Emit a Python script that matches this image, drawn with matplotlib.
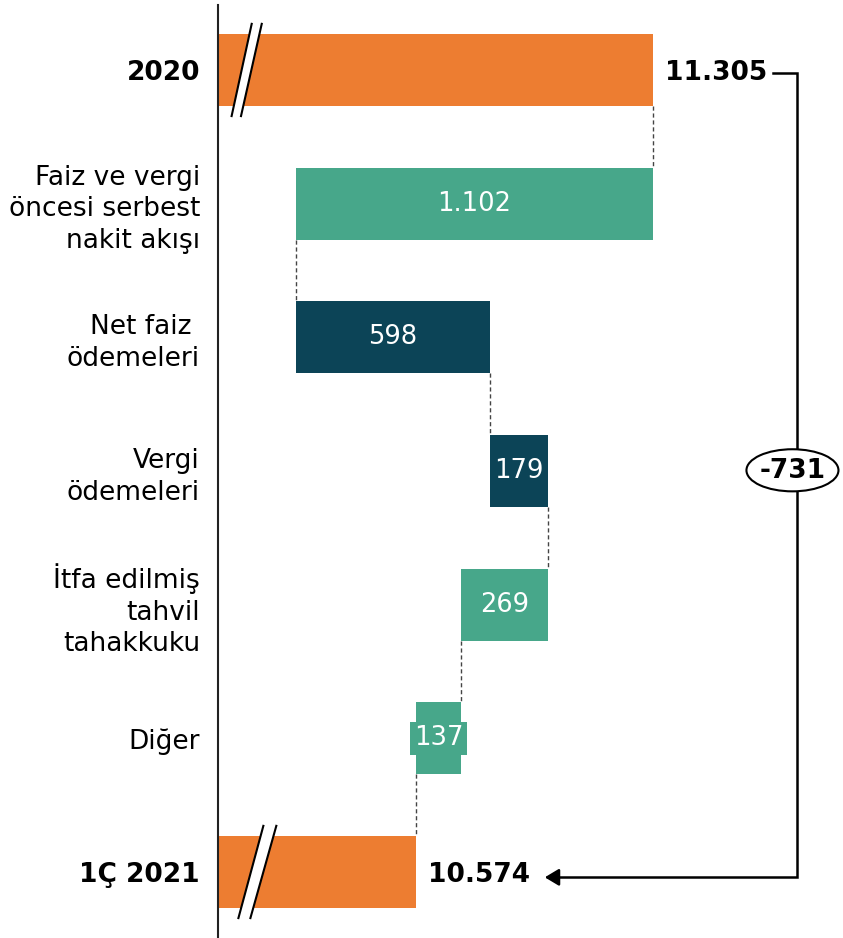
import matplotlib
matplotlib.use('Agg')
import matplotlib.pyplot as plt
from matplotlib.patches import Ellipse, Polygon

# --- data ---
categories = ['2020', 'Faiz ve vergi\nöncesi serbest\nnakit akışı', 'Net faiz \nödemeleri',
              'Vergi\nödemeleri', 'İtfa edilmiş\ntahvil\ntahakkuku', 'Diğer', '1Ç 2021']
start_value = 11305
end_value = 10574
changes = [-1102, 598, 179, -269, -137]
change_labels = ['1.102', '598', '179', '269', '137']
start_label = '11.305'
end_label = '10.574'
total_change_label = '-731'

ORANGE = '#ED7D31'
GREEN = '#47A78A'
DARK = '#0C4457'

plt.rcParams.update({'font.family': 'DejaVu Sans', 'font.size': 18})

fig = plt.figure(figsize=(8.43, 9.38), dpi=100)
ax = fig.add_axes([218 / 843, 0, 625 / 843, 933 / 938])

height = 0.54
x_left = 9962

# totals
ax.barh(0, start_value - x_left, left=x_left, height=height, color=ORANGE)
ax.barh(6, end_value - x_left, left=x_left, height=height, color=ORANGE)

# steps
level = start_value
levels = [start_value]
for idx, (chg, lab) in enumerate(zip(changes, change_labels)):
    new_level = level + chg
    lo, hi = min(level, new_level), max(level, new_level)
    col = GREEN if chg < 0 else DARK
    ax.barh(idx + 1, hi - lo, left=lo, height=height, color=col)
    bbox = None
    if lab == '137':
        bbox = dict(facecolor=GREEN, edgecolor='none', pad=2.5)
    ax.text((lo + hi) / 2, idx + 1, lab, color='white', ha='center', va='center',
            fontsize=18.5, bbox=bbox)
    level = new_level
    levels.append(level)

# dashed connectors
for idx, lev in enumerate(levels):
    ax.plot([lev, lev], [idx + height / 2, idx + 1 - height / 2], color='#444444',
            linestyle=(0, (3, 2)), linewidth=1)

# axis break marks
for yc, xs in [(0, (10004, 10066, 10033, 10097)), (6, (10025, 10102, 10062, 10142))]:
    b0, t0, b1, t1 = xs
    d = 0.345
    ax.add_patch(Polygon([(b0, yc + d), (t0, yc - d), (t1, yc - d), (b1, yc + d)],
                         closed=True, facecolor='white', edgecolor='none', zorder=3))
    ax.plot([b0, t0], [yc + d, yc - d], color='black', linewidth=1.5, zorder=4)
    ax.plot([b1, t1], [yc + d, yc - d], color='black', linewidth=1.5, zorder=4)

# value labels of totals
ax.text(start_value + 37, 0.02, start_label, fontweight='bold', ha='left', va='center', fontsize=19)
ax.text(end_value + 37, 6.02, end_label, fontweight='bold', ha='left', va='center', fontsize=19)

# bracket with arrow
x_br = 11750
ax.plot([11675, x_br, x_br, 10990], [0.02, 0.02, 6.04, 6.04], color='black', linewidth=1.8,
        solid_joinstyle='miter')
ax.annotate('', xy=(10962, 6.04), xytext=(11010, 6.04),
            arrowprops=dict(arrowstyle='-|>,head_length=0.5,head_width=0.3', color='black',
                            lw=1.8, mutation_scale=17))
ax.add_patch(Ellipse((11735, 2.995), 284, 0.315, facecolor='white', edgecolor='black',
                     linewidth=1.5, zorder=5))
ax.text(11735, 3.0, total_change_label, fontweight='bold', ha='center', va='center',
        fontsize=19, zorder=6)

ax.set_xlim(x_left, 11891)
ax.set_ylim(6.494, -0.486)
ax.set_xticks([])
ax.set_yticks(range(len(categories)))
ax.set_yticklabels(categories, fontsize=19, linespacing=1.28)
for i, tl in enumerate(ax.get_yticklabels()):
    if i in (0, 6):
        tl.set_fontweight('bold')
        tl.set_fontsize(19)
ax.tick_params(axis='y', length=0, pad=13)
for side in ['top', 'right', 'bottom']:
    ax.spines[side].set_visible(False)
ax.spines['left'].set_linewidth(1.5)
ax.spines['left'].set_color('#222222')

fig.savefig('out.png', dpi=100)
